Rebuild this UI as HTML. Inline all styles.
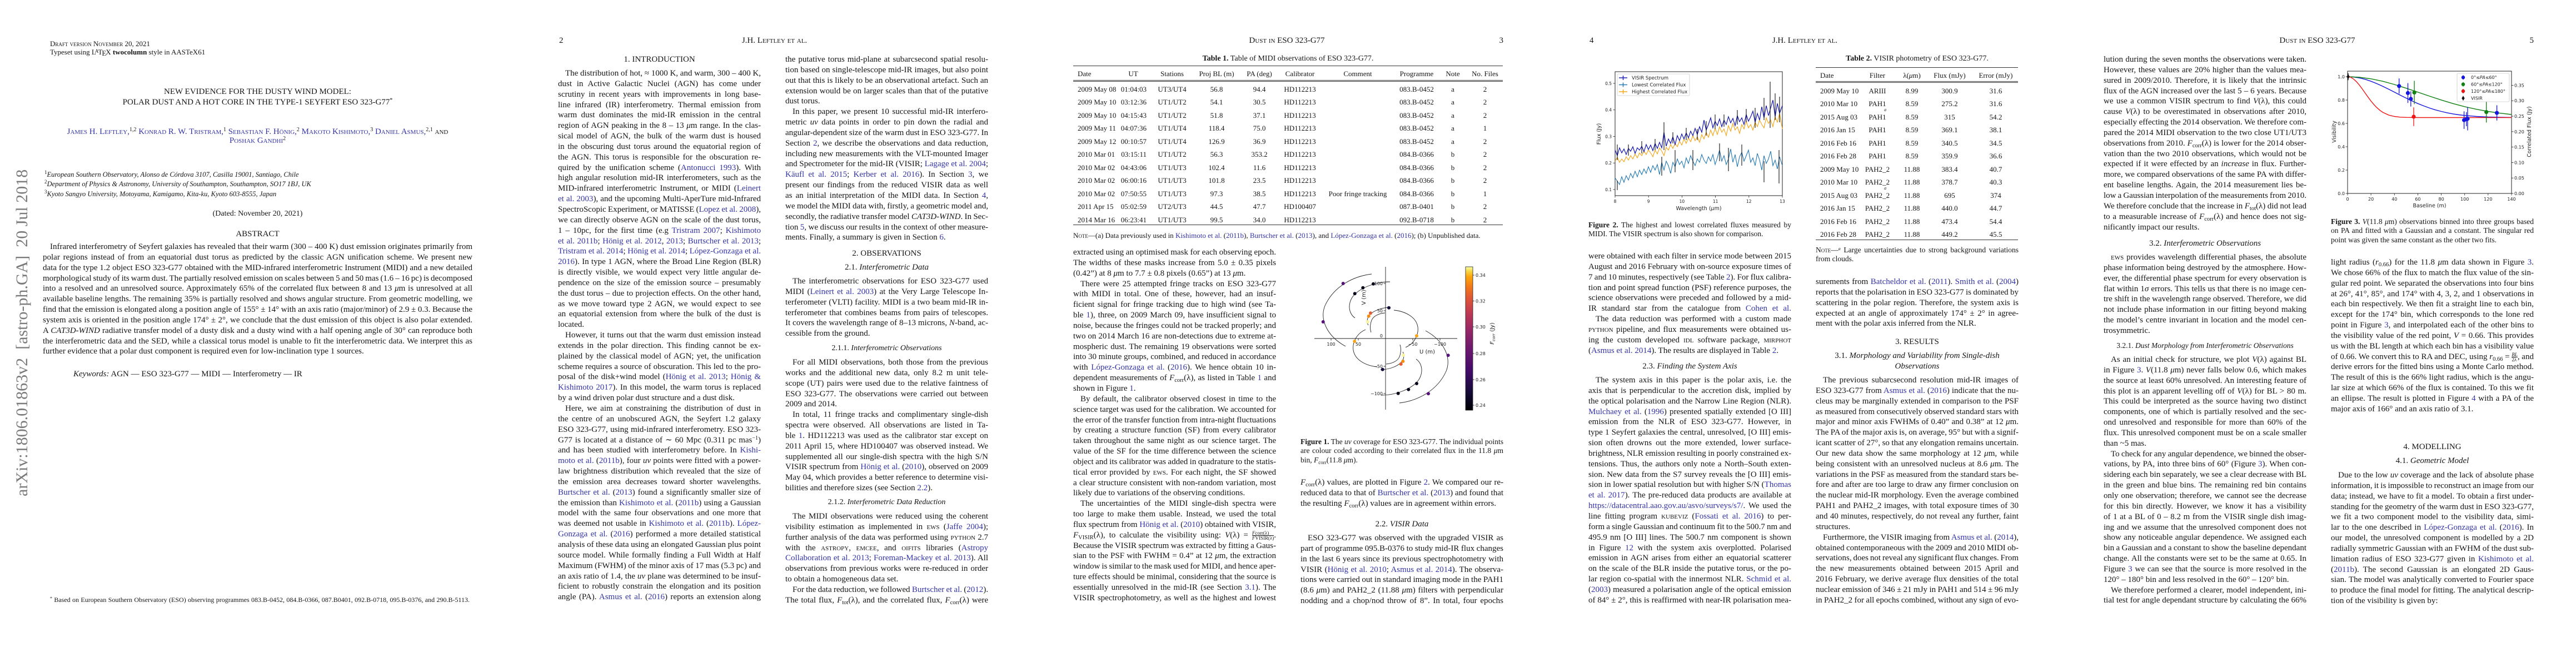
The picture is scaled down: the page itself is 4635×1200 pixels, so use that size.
<!DOCTYPE html>
<html><head><meta charset="utf-8">
<style>
*{box-sizing:border-box}
html,body{margin:0;padding:0}
body{width:4635px;height:1200px;position:relative;background:#fff;overflow:hidden;font-family:"Liberation Serif","DejaVu Serif",serif;color:#151515}
.pg{position:absolute;top:0;width:927px;height:1200px;overflow:hidden}
.b{position:absolute;width:365px;font-size:15px;line-height:18.85px}
.b>div{height:18.85px;overflow:hidden;text-align:justify;text-align-last:justify;word-spacing:-1px;white-space:normal}
.b>div.e{text-align-last:left;word-spacing:0}
.b>div.i{text-indent:13px}
.hd{position:absolute;width:365px;text-align:center;font-size:15px;line-height:18.85px;white-space:nowrap}
.c{color:#3434a6}
.sc{font-variant:small-caps}
.s{font-size:10.5px;position:relative;top:3px;line-height:0}
.u{font-size:10px;position:relative;top:-5px;line-height:0}
.pn{position:absolute;top:64px;font-size:15px;line-height:18px}
.rh{position:absolute;top:64px;left:0;width:927px;text-align:center;font-size:15px;line-height:18px;font-variant:small-caps}
.cap{position:absolute;width:365px;font-size:13.5px;line-height:16.7px}
.cap>div{height:16.7px;overflow:hidden;text-align:justify;text-align-last:justify;word-spacing:-0.5px}
.cap>div.e{text-align-last:left;word-spacing:0}
.rule{position:absolute;height:0;border-top:1px solid #333}
.tr{position:absolute;left:0;width:927px;height:17px;font-size:13px;line-height:17px;white-space:nowrap}
.tr span{position:absolute;top:0;width:100px;text-align:center}
.tr span.l{text-align:left;width:auto}
.tr span.r{text-align:right}
svg{position:absolute;overflow:visible}
svg text{font-family:"DejaVu Sans",sans-serif}
.frac{display:inline-block;vertical-align:middle;font-size:9px;line-height:8px;text-align:center;text-indent:0}
</style></head><body>

<!-- ================= PAGE 1 ================= -->
<div class="pg" style="left:0">
<div style="position:absolute;left:90px;top:70px;font-size:13px;line-height:18px;font-variant:small-caps;white-space:nowrap">Draft version November 20, 2021</div>
<div style="position:absolute;left:90px;top:85px;font-size:13px;line-height:18px;white-space:nowrap">Typeset using L<span style="font-size:9px;position:relative;top:-3px;margin-left:-2px;margin-right:-1px">A</span>T<span style="position:relative;top:2px;margin-left:-1px;margin-right:-1px">E</span>X <b>twocolumn</b> style in AASTeX61</div>
<div style="position:absolute;left:0;width:927px;top:156px;text-align:center;font-size:15px;line-height:19px;white-space:nowrap">NEW EVIDENCE FOR THE DUSTY WIND MODEL:</div>
<div style="position:absolute;left:0;width:927px;top:175px;text-align:center;font-size:15px;line-height:19px;white-space:nowrap">POLAR DUST AND A HOT CORE IN THE TYPE-1 SEYFERT ESO 323-G77<span class="u">*</span></div>
<div style="position:absolute;left:0;width:927px;top:228px;text-align:center;font-size:15px;line-height:19px;white-space:nowrap;font-variant:small-caps"><span class="c">James H. Leftley,</span><span class="u">1,2</span> <span class="c">Konrad R. W. Tristram,</span><span class="u">1</span> <span class="c">Sebastian F. Hönig,</span><span class="u">2</span> <span class="c">Makoto Kishimoto,</span><span class="u">3</span> <span class="c">Daniel Asmus,</span><span class="u">2,1</span> and</div>
<div style="position:absolute;left:0;width:927px;top:244px;text-align:center;font-size:15px;line-height:19px;white-space:nowrap;font-variant:small-caps"><span class="c">Poshak Gandhi</span><span class="u">2</span></div>
<div style="position:absolute;left:80px;top:306px;font-size:12.5px;line-height:17px;font-style:italic;white-space:nowrap"><span class="u" style="font-style:normal;font-size:9px">1</span>European Southern Observatory, Alonso de Córdova 3107, Casilla 19001, Santiago, Chile</div>
<div style="position:absolute;left:80px;top:323px;font-size:12.5px;line-height:17px;font-style:italic;white-space:nowrap"><span class="u" style="font-style:normal;font-size:9px">2</span>Department of Physics &amp; Astronomy, University of Southampton, Southampton, SO17 1BJ, UK</div>
<div style="position:absolute;left:80px;top:341px;font-size:12.5px;line-height:17px;font-style:italic;white-space:nowrap"><span class="u" style="font-style:normal;font-size:9px">3</span>Kyoto Sangyo University, Motoyama, Kamigamo, Kita-ku, Kyoto 603-8555, Japan</div>
<div style="position:absolute;left:0;width:927px;top:376px;text-align:center;font-size:14px;line-height:18px;white-space:nowrap">(Dated: November 20, 2021)</div>
<div style="position:absolute;left:0;width:927px;top:412px;text-align:center;font-size:15px;line-height:18px">ABSTRACT</div>
<div class="b" style="left:77px;top:435px;width:773px">
<div class="i">Infrared interferometry of Seyfert galaxies has revealed that their warm (300 – 400 K) dust emission originates primarily from</div>
<div>polar regions instead of from an equatorial dust torus as predicted by the classic AGN unification scheme. We present new</div>
<div>data for the type 1.2 object ESO 323-G77 obtained with the MID-infrared interferometric Instrument (MIDI) and a new detailed</div>
<div>morphological study of its warm dust. The partially resolved emission on scales between 5 and 50 mas (1.6 – 16 pc) is decomposed</div>
<div>into a resolved and an unresolved source. Approximately 65% of the correlated flux between 8 and 13 <i>μ</i>m is unresolved at all</div>
<div>available baseline lengths. The remaining 35% is partially resolved and shows angular structure. From geometric modelling, we</div>
<div>find that the emission is elongated along a position angle of 155° ± 14° with an axis ratio (major/minor) of 2.9 ± 0.3. Because the</div>
<div>system axis is oriented in the position angle 174° ± 2°, we conclude that the dust emission of this object is also polar extended.</div>
<div>A <i>CAT3D-WIND</i> radiative transfer model of a dusty disk and a dusty wind with a half opening angle of 30° can reproduce both</div>
<div>the interferometric data and the SED, while a classical torus model is unable to fit the interferometric data. We interpret this as</div>
<div class="e">further evidence that a polar dust component is required even for low-inclination type 1 sources.</div>
</div>
<div style="position:absolute;left:132px;top:664px;font-size:15px;line-height:18px;white-space:nowrap"><i>Keywords:</i> AGN — ESO 323-G77 — MIDI — Interferometry — IR</div>
<div style="position:absolute;left:90px;top:1071px;width:755px;font-size:12px;line-height:16px;text-align:justify;text-align-last:justify;white-space:nowrap;overflow:hidden;height:16px"><span class="u" style="font-size:8px;top:-4px">*</span> Based on European Southern Observatory (ESO) observing programmes 083.B-0452, 084.B-0366, 087.B0401, 092.B-0718, 095.B-0376, and 290.B-5113.</div>
<div style="position:absolute;left:23px;top:893px;transform-origin:0 0;transform:rotate(-90deg);font-size:30px;line-height:34px;color:#7a7a7a;white-space:nowrap">arXiv:1806.01863v2&nbsp;&nbsp;[astro-ph.GA]&nbsp;&nbsp;20 Jul 2018</div>
</div>

<!-- ================= PAGE 2 ================= -->
<div class="pg" style="left:927px">
<div class="pn" style="left:79px">2</div>
<div class="rh" style="left:3px">J.H. Leftley et al.</div>
<div class="hd" style="left:77px;top:98px">1. INTRODUCTION</div>
<div class="b" style="left:77px;top:123px">
<div class="i">The distribution of hot, ≈ 1000 K, and warm, 300 – 400 K,</div>
<div>dust in Active Galactic Nuclei (AGN) has come under</div>
<div>scrutiny in recent years with improvements in long base-</div>
<div>line infrared (IR) interferometry. Thermal emission from</div>
<div>warm dust dominates the mid-IR emission in the central</div>
<div>region of AGN peaking in the 8 – 13 <i>μ</i>m range. In the clas-</div>
<div>sical model of AGN, the bulk of the warm dust is housed</div>
<div>in the obscuring dust torus around the equatorial region of</div>
<div>the AGN. This torus is responsible for the obscuration re-</div>
<div>quired by the unification scheme (<span class="c">Antonucci 1993</span>). With</div>
<div>high angular resolution mid-IR interferometers, such as the</div>
<div>MID-infrared interferometric Instrument, or MIDI (<span class="c">Leinert</span></div>
<div><span class="c">et al. 2003</span>), and the upcoming Multi-AperTure mid-Infrared</div>
<div>SpectroScopic Experiment, or MATISSE (<span class="c">Lopez et al. 2008</span>),</div>
<div>we can directly observe AGN on the scale of the dust torus,</div>
<div>1 – 10pc, for the first time (e.g <span class="c">Tristram 2007</span>; <span class="c">Kishimoto</span></div>
<div><span class="c">et al. 2011b</span>; <span class="c">Hönig et al. 2012</span>, <span class="c">2013</span>; <span class="c">Burtscher et al. 2013</span>;</div>
<div><span class="c">Tristram et al. 2014</span>; <span class="c">Hönig et al. 2014</span>; <span class="c">López-Gonzaga et al.</span></div>
<div><span class="c">2016</span>). In type 1 AGN, where the Broad Line Region (BLR)</div>
<div>is directly visible, we would expect very little angular de-</div>
<div>pendence on the size of the emission source – presumably</div>
<div>the dust torus – due to projection effects. On the other hand,</div>
<div>as we move toward type 2 AGN, we would expect to see</div>
<div>an equatorial extension from where the bulk of the dust is</div>
<div class="e">located.</div>
<div class="i">However, it turns out that the warm dust emission instead</div>
<div>extends in the polar direction. This finding cannot be ex-</div>
<div>plained by the classical model of AGN; yet, the unification</div>
<div>scheme requires a source of obscuration. This led to the pro-</div>
<div>posal of the disk+wind model (<span class="c">Hönig et al. 2013</span>; <span class="c">Hönig &amp;</span></div>
<div><span class="c">Kishimoto 2017</span>). In this model, the warm torus is replaced</div>
<div class="e">by a wind driven polar dust structure and a dust disk.</div>
<div class="i">Here, we aim at constraining the distribution of dust in</div>
<div>the centre of an unobscured AGN, the Seyfert 1.2 galaxy</div>
<div>ESO 323-G77, using mid-infrared interferometry. ESO 323-</div>
<div>G77 is located at a distance of ∼ 60 Mpc (0.311 pc mas<span class="u">−1</span>)</div>
<div>and has been studied with interferometry before. In <span class="c">Kishi-</span></div>
<div><span class="c">moto et al.</span> (<span class="c">2011b</span>), four <i>uv</i> points were fitted with a power-</div>
<div>law brightness distribution which revealed that the size of</div>
<div>the emission area decreases toward shorter wavelengths.</div>
<div><span class="c">Burtscher et al.</span> (<span class="c">2013</span>) found a significantly smaller size of</div>
<div>the emission than <span class="c">Kishimoto et al.</span> (<span class="c">2011b</span>) using a Gaussian</div>
<div>model with the same four observations and one more that</div>
<div>was deemed not usable in <span class="c">Kishimoto et al.</span> (<span class="c">2011b</span>). <span class="c">López-</span></div>
<div><span class="c">Gonzaga et al.</span> (<span class="c">2016</span>) performed a more detailed statistical</div>
<div>analysis of these data using an elongated Gaussian plus point</div>
<div>source model. While formally finding a Full Width at Half</div>
<div>Maximum (FWHM) of the minor axis of 17 mas (5.3 pc) and</div>
<div>an axis ratio of 1.4, the <i>uv</i> plane was determined to be insuf-</div>
<div>ficient to robustly constrain the elongation and its position</div>
<div>angle (PA). <span class="c">Asmus et al.</span> (<span class="c">2016</span>) reports an extension along</div>
</div>
<div class="b" style="left:486px;top:98px">
<div>the putative torus mid-plane at subarcsecond spatial resolu-</div>
<div>tion based on single-telescope mid-IR images, but also point</div>
<div>out that this is likely to be an observational artefact. Such an</div>
<div>extension would be on larger scales than that of the putative</div>
<div class="e">dust torus.</div>
<div class="i">In this paper, we present 10 successful mid-IR interfero-</div>
<div>metric <i>uv</i> data points in order to pin down the radial and</div>
<div>angular-dependent size of the warm dust in ESO 323-G77. In</div>
<div>Section <span class="c">2</span>, we describe the observations and data reduction,</div>
<div>including new measurements with the VLT-mounted Imager</div>
<div>and Spectrometer for the mid-IR (VISIR; <span class="c">Lagage et al. 2004</span>;</div>
<div><span class="c">Käufl et al. 2015</span>; <span class="c">Kerber et al. 2016</span>). In Section <span class="c">3</span>, we</div>
<div>present our findings from the reduced VISIR data as well</div>
<div>as an initial interpretation of the MIDI data. In Section <span class="c">4</span>,</div>
<div>we model the MIDI data with, firstly, a geometric model and,</div>
<div>secondly, the radiative transfer model <i>CAT3D-WIND</i>. In Sec-</div>
<div>tion <span class="c">5</span>, we discuss our results in the context of other measure-</div>
<div class="e">ments. Finally, a summary is given in Section <span class="c">6</span>.</div>
</div>
<div class="hd" style="left:486px;top:447px">2. OBSERVATIONS</div>
<div class="hd" style="left:486px;top:472px">2.1. <i>Interferometric Data</i></div>
<div class="b" style="left:486px;top:497px">
<div class="i">The interferometric observations for ESO 323-G77 used</div>
<div>MIDI (<span class="c">Leinert et al. 2003</span>) at the Very Large Telescope In-</div>
<div>terferometer (VLTI) facility. MIDI is a two beam mid-IR in-</div>
<div>terferometer that combines beams from pairs of telescopes.</div>
<div>It covers the wavelength range of 8–13 microns, <i>N</i>-band, ac-</div>
<div class="e">cessible from the ground.</div>
</div>
<div class="hd" style="left:486px;top:618px;font-size:14px">2.1.1. <i>Interferometric Observations</i></div>
<div class="b" style="left:486px;top:643px">
<div class="i">For all MIDI observations, both those from the previous</div>
<div>works and the additional new data, only 8.2 m unit tele-</div>
<div>scope (UT) pairs were used due to the relative faintness of</div>
<div>ESO 323-G77. The observations were carried out between</div>
<div class="e">2009 and 2014.</div>
<div class="i">In total, 11 fringe tracks and complimentary single-dish</div>
<div>spectra were observed. All observations are listed in Ta-</div>
<div>ble <span class="c">1</span>. HD112213 was used as the calibrator star except on</div>
<div>2011 April 15, where HD100407 was observed instead. We</div>
<div>supplemented all our single-dish spectra with the high S/N</div>
<div>VISIR spectrum from <span class="c">Hönig et al.</span> (<span class="c">2010</span>), observed on 2009</div>
<div>May 04, which provides a better reference to determine visi-</div>
<div class="e">bilities and therefore sizes (see Section <span class="c">2.2</span>).</div>
</div>
<div class="hd" style="left:486px;top:895px;font-size:14px">2.1.2. <i>Interferometric Data Reduction</i></div>
<div class="b" style="left:486px;top:920px">
<div class="i">The MIDI observations were reduced using the coherent</div>
<div>visibility estimation as implemented in <span class="sc">ews</span> (<span class="c">Jaffe 2004</span>);</div>
<div>further analysis of the data was performed using <span class="sc">python</span> 2.7</div>
<div>with the <span class="sc">astropy</span>, <span class="sc">emcee</span>, and <span class="sc">oifits</span> libraries (<span class="c">Astropy</span></div>
<div><span class="c">Collaboration et al. 2013</span>; <span class="c">Foreman-Mackey et al. 2013</span>). All</div>
<div>observations from previous works were re-reduced in order</div>
<div class="e">to obtain a homogeneous data set.</div>
<div class="i">For the data reduction, we followed <span class="c">Burtscher et al.</span> (<span class="c">2012</span>).</div>
<div>The total flux, <i>F</i><span class="s">tot</span>(λ), and the correlated flux, <i>F</i><span class="s">corr</span>(λ) were</div>
</div>
</div>

<!-- ================= PAGE 3 ================= -->
<div class="pg" style="left:1854px">
<div class="rh" style="left:-2px">Dust in ESO 323-G77</div>
<div class="pn" style="right:76px">3</div>
<div style="position:absolute;left:77px;width:773px;top:97px;text-align:center;font-size:14px;line-height:18px;white-space:nowrap"><b>Table 1.</b> Table of MIDI observations of ESO 323-G77.</div>
<div class="rule" style="left:77px;width:773px;top:118px;border-top-width:1.5px"></div>
<div class="tr" style="top:123.5px"><span class="l" style="left:85px">Date</span><span style="left:135px">UT</span><span style="left:205px">Stations</span><span style="left:285px">Proj BL (m)</span><span style="left:362px">PA (deg)</span><span style="left:435px">Calibrator</span><span style="left:529px;width:120px">Comment</span><span style="left:645px">Programme</span><span style="left:710px">Note</span><span style="left:768px">No. Files</span></div>
<div class="rule" style="left:77px;width:773px;top:143.5px"></div>
<div class="rule" style="left:77px;width:773px;top:146px"></div>
<div class="tr" style="top:151.5px"><span class="l" style="left:85px">2009 May 08</span><span class="r" style="left:109px">01:04:03</span><span style="left:205px">UT3/UT4</span><span style="left:285px">56.8</span><span style="left:362px">94.4</span><span style="left:435px">HD112213</span><span style="left:645px">083.B-0452</span><span style="left:710px">a</span><span style="left:768px">2</span></div>
<div class="tr" style="top:175px"><span class="l" style="left:85px">2009 May 10</span><span class="r" style="left:109px">03:12:36</span><span style="left:205px">UT1/UT2</span><span style="left:285px">54.1</span><span style="left:362px">30.5</span><span style="left:435px">HD112213</span><span style="left:645px">083.B-0452</span><span style="left:710px">a</span><span style="left:768px">2</span></div>
<div class="tr" style="top:198.5px"><span class="l" style="left:85px">2009 May 10</span><span class="r" style="left:109px">04:15:43</span><span style="left:205px">UT1/UT2</span><span style="left:285px">51.8</span><span style="left:362px">37.1</span><span style="left:435px">HD112213</span><span style="left:645px">083.B-0452</span><span style="left:710px">a</span><span style="left:768px">2</span></div>
<div class="tr" style="top:222px"><span class="l" style="left:85px">2009 May 11</span><span class="r" style="left:109px">04:07:36</span><span style="left:205px">UT1/UT4</span><span style="left:285px">118.4</span><span style="left:362px">75.0</span><span style="left:435px">HD112213</span><span style="left:645px">083.B-0452</span><span style="left:710px">a</span><span style="left:768px">1</span></div>
<div class="tr" style="top:245.5px"><span class="l" style="left:85px">2009 May 12</span><span class="r" style="left:109px">00:10:57</span><span style="left:205px">UT1/UT4</span><span style="left:285px">126.9</span><span style="left:362px">36.9</span><span style="left:435px">HD112213</span><span style="left:645px">083.B-0452</span><span style="left:710px">a</span><span style="left:768px">2</span></div>
<div class="tr" style="top:269px"><span class="l" style="left:85px">2010 Mar 01</span><span class="r" style="left:109px">03:15:11</span><span style="left:205px">UT1/UT2</span><span style="left:285px">56.3</span><span style="left:362px">353.2</span><span style="left:435px">HD112213</span><span style="left:645px">084.B-0366</span><span style="left:710px">b</span><span style="left:768px">2</span></div>
<div class="tr" style="top:292.5px"><span class="l" style="left:85px">2010 Mar 02</span><span class="r" style="left:109px">04:43:06</span><span style="left:205px">UT1/UT3</span><span style="left:285px">102.4</span><span style="left:362px">11.6</span><span style="left:435px">HD112213</span><span style="left:645px">084.B-0366</span><span style="left:710px">b</span><span style="left:768px">2</span></div>
<div class="tr" style="top:316px"><span class="l" style="left:85px">2010 Mar 02</span><span class="r" style="left:109px">06:00:16</span><span style="left:205px">UT1/UT3</span><span style="left:285px">101.8</span><span style="left:362px">23.5</span><span style="left:435px">HD112213</span><span style="left:645px">084.B-0366</span><span style="left:710px">b</span><span style="left:768px">2</span></div>
<div class="tr" style="top:339.5px"><span class="l" style="left:85px">2010 Mar 02</span><span class="r" style="left:109px">07:50:55</span><span style="left:205px">UT1/UT3</span><span style="left:285px">97.3</span><span style="left:362px">38.5</span><span style="left:435px">HD112213</span><span style="left:529px;width:120px">Poor fringe tracking</span><span style="left:645px">084.B-0366</span><span style="left:710px">b</span><span style="left:768px">1</span></div>
<div class="tr" style="top:363px"><span class="l" style="left:85px">2011 Apr 15</span><span class="r" style="left:109px">05:02:59</span><span style="left:205px">UT2/UT3</span><span style="left:285px">44.5</span><span style="left:362px">47.7</span><span style="left:435px">HD100407</span><span style="left:645px">087.B-0401</span><span style="left:710px">b</span><span style="left:768px">2</span></div>
<div class="tr" style="top:386.5px"><span class="l" style="left:85px">2014 Mar 16</span><span class="r" style="left:109px">06:23:41</span><span style="left:205px">UT1/UT3</span><span style="left:285px">99.5</span><span style="left:362px">34.0</span><span style="left:435px">HD112213</span><span style="left:645px">092.B-0718</span><span style="left:710px">b</span><span style="left:768px">2</span></div>
<div class="rule" style="left:77px;width:773px;top:404px;border-top-width:1.5px"></div>
<div style="position:absolute;left:77px;top:415px;font-size:13px;line-height:18px;white-space:nowrap"><span class="sc">Note</span>—(a) Data previously used in <span class="c">Kishimoto et al.</span> (<span class="c">2011b</span>), <span class="c">Burtscher et al.</span> (<span class="c">2013</span>), and <span class="c">López-Gonzaga et al.</span> (<span class="c">2016</span>); (b) Unpublished data.</div>
<div class="b" style="left:77px;top:445px">
<div>extracted using an optimised mask for each observing epoch.</div>
<div>The widths of these masks increase from 5.0 ± 0.35 pixels</div>
<div class="e">(0.42”) at 8 <i>μ</i>m to 7.7 ± 0.8 pixels (0.65”) at 13 <i>μ</i>m.</div>
<div class="i">There were 25 attempted fringe tracks on ESO 323-G77</div>
<div>with MIDI in total. One of these, however, had an insuf-</div>
<div>ficient signal for fringe tracking due to high wind (see Ta-</div>
<div>ble <span class="c">1</span>), three, on 2009 March 09, have insufficient signal to</div>
<div>noise, because the fringes could not be tracked properly; and</div>
<div>two on 2014 March 16 are non-detections due to extreme at-</div>
<div>mospheric dust. The remaining 19 observations were sorted</div>
<div>into 30 minute groups, combined, and reduced in accordance</div>
<div>with <span class="c">López-Gonzaga et al.</span> (<span class="c">2016</span>). We hence obtain 10 in-</div>
<div>dependent measurements of <i>F</i><span class="s">corr</span>(λ), as listed in Table <span class="c">1</span> and</div>
<div class="e">shown in Figure <span class="c">1</span>.</div>
<div class="i">By default, the calibrator observed closest in time to the</div>
<div>science target was used for the calibration. We accounted for</div>
<div>the error of the transfer function from intra-night fluctuations</div>
<div>by creating a structure function (SF) from every calibrator</div>
<div>taken throughout the same night as our science target. The</div>
<div>value of the SF for the time difference between the science</div>
<div>object and its calibrator was added in quadrature to the statis-</div>
<div>tical error provided by <span class="sc">ews</span>. For each night, the SF showed</div>
<div>a clear structure consistent with non-random variation, most</div>
<div class="e">likely due to variations of the observing conditions.</div>
<div class="i">The uncertainties of the MIDI single-dish spectra were</div>
<div>too large to make them usable. Instead, we used the total</div>
<div>flux spectrum from <span class="c">Hönig et al.</span> (<span class="c">2010</span>) obtained with VISIR,</div>
<div><i>F</i><span class="s">VISIR</span>(λ), to calculate the visibility using: <i>V</i>(λ) = <span class="frac"><i>F</i>corr(λ)<br><span style="border-top:1px solid #222;display:block"><i>F</i>VISIR(λ)</span></span>.</div>
<div>Because the VISIR spectrum was extracted by fitting a Gaus-</div>
<div>sian to the PSF with FWHM = 0.4” at 12 <i>μ</i>m, the extraction</div>
<div>window is similar to the mask used for MIDI, and hence aper-</div>
<div>ture effects should be minimal, considering that the source is</div>
<div>essentially unresolved in the mid-IR (see Section <span class="c">3.1</span>). The</div>
<div>VISIR spectrophotometry, as well as the highest and lowest</div>
</div>
<svg style="left:486px;top:470px" width="364" height="280" font-size="8">
<defs><linearGradient id="inf" x1="0" y1="1" x2="0" y2="0">
<stop offset="0" stop-color="#000004"/><stop offset="0.13" stop-color="#160b39"/><stop offset="0.27" stop-color="#420a68"/><stop offset="0.42" stop-color="#6a176e"/><stop offset="0.55" stop-color="#932667"/><stop offset="0.67" stop-color="#bc3754"/><stop offset="0.77" stop-color="#dd513a"/><stop offset="0.86" stop-color="#f37819"/><stop offset="0.93" stop-color="#fca50a"/><stop offset="0.97" stop-color="#f6d746"/><stop offset="1" stop-color="#fcffa4"/></linearGradient></defs>
<g stroke="#222" stroke-width="0.9" fill="none">
<line x1="25" y1="139" x2="282" y2="139"/>
<line x1="153" y1="10" x2="153" y2="267"/>
<line x1="55" y1="139" x2="55" y2="142.5"/><line x1="104" y1="139" x2="104" y2="142.5"/><line x1="202" y1="139" x2="202" y2="142.5"/><line x1="251" y1="139" x2="251" y2="142.5"/>
<line x1="149.5" y1="40" x2="153" y2="40"/><line x1="149.5" y1="89" x2="153" y2="89"/><line x1="149.5" y1="189" x2="153" y2="189"/><line x1="149.5" y1="238" x2="153" y2="238"/>
<path d="M128,23 C95,27 60,45 44,80 C34,105 48,135 81,153"/>
<path d="M178,255 C211,251 246,233 262,198 C272,173 258,143 225,125"/>
<path d="M161,37 C135,37 105,48 93,65 C84,80 88,95 98,102"/>
<path d="M145,241 C171,241 201,230 213,213 C222,198 218,183 208,176"/>
<path d="M162,83 C145,83 128,90 122,100 C119,106 120,112 122,115"/>
<path d="M152,93 C140,94 131,99 128,106 C125,114 125,122 127,128"/>
<path d="M144,195 C161,195 178,188 184,178 C187,172 186,166 184,163"/>
<path d="M154,185 C166,184 175,179 178,172 C181,164 181,156 179,150"/>
<path d="M189,155 C205,148 213,132 211,118 C208,100 188,90 168,88"/>
<path d="M117,123 C101,130 93,146 95,160 C98,178 118,188 138,190"/>
</g>
<g stroke="none">
<circle cx="76.7" cy="40" r="3" fill="#55107a"/>
<circle cx="40.7" cy="109" r="3" fill="#55107a"/>
<circle cx="97.7" cy="58.3" r="3" fill="#08051b"/>
<circle cx="112.3" cy="47.7" r="3" fill="#08051b"/>
<circle cx="131" cy="40.7" r="3" fill="#08051b"/>
<circle cx="159" cy="83.7" r="3" fill="#150b3a"/>
<circle cx="126" cy="93.3" r="3" fill="#e45a31"/>
<circle cx="122.7" cy="98.7" r="3" fill="#f98c0a"/>
<circle cx="121" cy="109" r="3" fill="#f8f4a0"/>
<circle cx="97.3" cy="144" r="3" fill="#f9a51a"/>
<circle cx="209" cy="134.3" r="3" fill="#f9a51a"/>
<circle cx="265.7" cy="169.3" r="3" fill="#55107a"/>
<circle cx="230" cy="238.3" r="3" fill="#55107a"/>
<circle cx="209" cy="220" r="3" fill="#08051b"/>
<circle cx="194.3" cy="230.7" r="3" fill="#08051b"/>
<circle cx="175.7" cy="237.7" r="3" fill="#08051b"/>
<circle cx="147.7" cy="194.7" r="3" fill="#150b3a"/>
<circle cx="180.7" cy="185" r="3" fill="#e45a31"/>
<circle cx="184.3" cy="180" r="3" fill="#f98c0a"/>
<circle cx="185" cy="169" r="3" fill="#f8f4a0"/>
</g>
<g fill="#222">
<text x="55" y="152" text-anchor="middle">100</text>
<text x="104" y="152" text-anchor="middle">50</text>
<text x="202" y="152" text-anchor="middle">−50</text>
<text x="251" y="152" text-anchor="middle">−100</text>
<text x="148" y="137" text-anchor="end">0</text>
<text x="148" y="43" text-anchor="end">100</text>
<text x="148" y="92" text-anchor="end">50</text>
<text x="148" y="192" text-anchor="end">−50</text>
<text x="148" y="241" text-anchor="end">−100</text>
<text x="228" y="166" text-anchor="middle" font-size="10">U (m)</text>
<text transform="translate(117,65) rotate(-90)" text-anchor="middle" font-size="10">V (m)</text>
</g>
<rect x="297" y="10" width="13" height="258" fill="url(#inf)" stroke="#222" stroke-width="0.8"/>
<g stroke="#222" stroke-width="0.8"><line x1="310" y1="25" x2="313" y2="25"/><line x1="310" y1="71.5" x2="313" y2="71.5"/><line x1="310" y1="118" x2="313" y2="118"/><line x1="310" y1="166" x2="313" y2="166"/><line x1="310" y1="213" x2="313" y2="213"/><line x1="310" y1="259" x2="313" y2="259"/></g>
<g fill="#222"><text x="315" y="28">0.34</text><text x="315" y="74.5">0.32</text><text x="315" y="121">0.30</text><text x="315" y="169">0.28</text><text x="315" y="216">0.26</text><text x="315" y="262">0.24</text>
<text transform="translate(348,130) rotate(-90)" text-anchor="middle" font-size="10"><tspan font-style="italic">F</tspan><tspan font-size="7" dy="2" font-style="italic">corr</tspan><tspan dy="-2"> (Jy)</tspan></text></g>
</svg>
<div class="cap" style="left:486px;top:786.5px">
<div><b>Figure 1.</b> The <i>uv</i> coverage for ESO 323-G77. The individual points</div>
<div>are colour coded according to their correlated flux in the 11.8 <i>μ</i>m</div>
<div class="e">bin, <i>F</i><span class="s" style="font-size:9px">corr</span>(11.8 <i>μ</i>m).</div>
</div>
<div class="b" style="left:486px;top:859px">
<div><i>F</i><span class="s">corr</span>(λ) values, are plotted in Figure <span class="c">2</span>. We compared our re-</div>
<div>reduced data to that of <span class="c">Burtscher et al.</span> (<span class="c">2013</span>) and found that</div>
<div class="e">the resulting <i>F</i><span class="s">corr</span>(λ) values are in agreement within errors.</div>
</div>
<div class="hd" style="left:486px;top:934px">2.2. <i>VISIR Data</i></div>
<div class="b" style="left:486px;top:959px">
<div class="i">ESO 323-G77 was observed with the upgraded VISIR as</div>
<div>part of programme 095.B-0376 to study mid-IR flux changes</div>
<div>in the last 6 years since its previous spectrophotometry with</div>
<div>VISIR (<span class="c">Hönig et al. 2010</span>; <span class="c">Asmus et al. 2014</span>). The observa-</div>
<div>tions were carried out in standard imaging mode in the PAH1</div>
<div>(8.6 <i>μ</i>m) and PAH2_2 (11.88 <i>μ</i>m) filters with perpendicular</div>
<div>nodding and a chop/nod throw of 8”. In total, four epochs</div>
</div>
</div>

<!-- ================= PAGE 4 ================= -->
<div class="pg" style="left:2781px">
<div class="pn" style="left:79px">4</div>
<div class="rh" style="left:3px">J.H. Leftley et al.</div>
<svg style="left:77px;top:120px" width="365" height="265" font-size="7.5">
<rect x="48" y="9" width="301" height="223" fill="none" stroke="#222" stroke-width="1"/>
<g stroke="#222" stroke-width="0.8">
<line x1="44.5" y1="30" x2="48" y2="30"/><line x1="44.5" y1="77.75" x2="48" y2="77.75"/><line x1="44.5" y1="125.5" x2="48" y2="125.5"/><line x1="44.5" y1="173.25" x2="48" y2="173.25"/><line x1="44.5" y1="221" x2="48" y2="221"/>
<line x1="48" y1="232" x2="48" y2="235.5"/><line x1="108.2" y1="232" x2="108.2" y2="235.5"/><line x1="168.4" y1="232" x2="168.4" y2="235.5"/><line x1="228.6" y1="232" x2="228.6" y2="235.5"/><line x1="288.8" y1="232" x2="288.8" y2="235.5"/><line x1="349" y1="232" x2="349" y2="235.5"/>
</g>
<g fill="#222">
<text x="42" y="33" text-anchor="end">0.5</text><text x="42" y="80.5" text-anchor="end">0.4</text><text x="42" y="128.5" text-anchor="end">0.3</text><text x="42" y="176" text-anchor="end">0.2</text><text x="42" y="224" text-anchor="end">0.1</text>
<text x="48" y="245" text-anchor="middle">8</text><text x="108.2" y="245" text-anchor="middle">9</text><text x="168.4" y="245" text-anchor="middle">10</text><text x="228.6" y="245" text-anchor="middle">11</text><text x="288.8" y="245" text-anchor="middle">12</text><text x="349" y="245" text-anchor="middle">13</text>
<text x="198.5" y="258" text-anchor="middle" font-size="9.5">Wavelength (<tspan font-style="italic">μ</tspan>m)</text>
<text transform="translate(22,121) rotate(-90)" text-anchor="middle" font-size="9.5">Flux (Jy)</text>
</g>
<polyline fill="none" stroke="#1f77b4" stroke-width="1.1" points="48,200 52,206 56,212 60,198 64,208 68,196 72,204 76,192 80,200 84,188 88,198 92,186 96,194 100,184 104,192 108,180 112,190 116,178 120,186 124,176 128,194 132,172 136,186 140,170 144,178 148,192 152,172 156,180 160,166 164,176 168,170 172,182 176,164 180,174 184,160 188,170 192,178 196,166 200,172 204,158 208,168 212,174 216,162 220,170 224,158 228,176 232,164 236,150 240,170 244,160 248,176 252,166 256,148 260,172 264,158 268,180 272,162 276,154 280,170 284,160 288,150 292,172 296,164 300,178 304,156 308,168 312,186 316,160 320,174 324,166 328,152 332,178 336,168 340,184 344,162 349,178"/>
<polyline fill="none" stroke="#f5a30f" stroke-width="1.1" points="48,170 52,163 56,172 60,166 64,171 68,162 72,168 76,160 80,166 84,157 88,164 92,155 96,160 100,152 104,158 108,150 112,155 116,162 120,150 124,157 128,146 132,152 136,160 140,145 144,150 148,140 152,147 156,138 160,144 164,134 168,141 172,130 176,138 180,128 184,135 188,124 192,133 196,126 200,136 204,122 208,130 212,118 216,127 220,114 224,124 228,111 232,122 236,108 240,118 244,112 248,124 252,106 256,116 260,102 264,114 268,108 272,120 276,104 280,112 284,98 288,110 292,104 296,114 300,100 304,108 308,96 312,104 316,110 320,92 324,102 328,96 332,108 336,90 340,100 344,84 349,112"/>
<polyline fill="none" stroke="#1515b5" stroke-width="1.2" points="48,150 52,160 56,146 60,155 64,148 68,158 72,147 76,152 80,144 84,156 88,146 92,150 96,143 100,153 104,140 108,149 112,141 116,151 120,138 124,147 128,136 132,146 136,118 140,143 144,130 148,138 152,126 156,140 160,124 164,133 168,121 172,130 176,119 180,128 184,116 188,124 192,111 196,122 200,108 204,118 208,96 212,114 216,104 220,92 224,110 228,98 232,106 236,94 240,108 244,96 248,104 252,90 256,101 260,93 264,106 268,88 272,99 276,92 280,104 284,86 288,98 292,90 296,80 300,100 304,84 308,96 312,72 316,92 320,70 324,88 328,74 332,60 336,90 340,66 344,84 349,70"/>
<g stroke="#111" stroke-width="1.1">
<line x1="52" y1="140" x2="52" y2="168"/><line x1="72" y1="140" x2="72" y2="160"/><line x1="96" y1="134" x2="96" y2="156"/><line x1="120" y1="130" x2="120" y2="150"/><line x1="136" y1="100" x2="136" y2="150"/><line x1="152" y1="118" x2="152" y2="138"/><line x1="176" y1="110" x2="176" y2="132"/><line x1="196" y1="112" x2="196" y2="132"/><line x1="212" y1="98" x2="212" y2="124"/><line x1="228" y1="86" x2="228" y2="112"/><line x1="244" y1="86" x2="244" y2="108"/><line x1="268" y1="78" x2="268" y2="104"/><line x1="284" y1="76" x2="284" y2="100"/><line x1="300" y1="74" x2="300" y2="110"/><line x1="316" y1="56" x2="316" y2="96"/><line x1="327" y1="27" x2="327" y2="110"/><line x1="336" y1="48" x2="336" y2="96"/><line x1="344" y1="54" x2="344" y2="100"/>
<line x1="52" y1="205" x2="52" y2="222"/><line x1="132" y1="162" x2="132" y2="196"/><line x1="156" y1="150" x2="156" y2="190"/><line x1="188" y1="150" x2="188" y2="186"/><line x1="236" y1="138" x2="236" y2="170"/><line x1="252" y1="146" x2="252" y2="188"/><line x1="276" y1="140" x2="276" y2="178"/><line x1="316" y1="170" x2="316" y2="208"/><line x1="343" y1="150" x2="343" y2="210"/>
</g>
<rect x="52" y="13" width="130" height="39" fill="#fff" fill-opacity="0.9" stroke="#ccc" stroke-width="0.8" rx="2"/>
<g stroke-width="1.4">
<line x1="55" y1="20" x2="70" y2="20" stroke="#1515b5"/><line x1="62.5" y1="16" x2="62.5" y2="24" stroke="#1515b5"/>
<line x1="55" y1="32.5" x2="70" y2="32.5" stroke="#1f77b4"/><line x1="62.5" y1="28.5" x2="62.5" y2="36.5" stroke="#1f77b4"/>
<line x1="55" y1="45" x2="70" y2="45" stroke="#f5a30f"/><line x1="62.5" y1="41" x2="62.5" y2="49" stroke="#f5a30f"/>
</g>
<g fill="#222" font-size="8.5"><text x="78" y="23">VISIR Spectrum</text><text x="78" y="35.5">Lowest Correlated Flux</text><text x="78" y="48">Highest Correlated Flux</text></g>
</svg>
<div class="cap" style="left:77px;top:396.5px">
<div><b>Figure 2.</b> The highest and lowest correlated fluxes measured by</div>
<div class="e">MIDI. The VISIR spectrum is also shown for comparison.</div>
</div>
<div class="b" style="left:77px;top:452px">
<div>were obtained with each filter in service mode between 2015</div>
<div>August and 2016 February with on-source exposure times of</div>
<div>7 and 10 minutes, respectively (see Table <span class="c">2</span>). For flux calibra-</div>
<div>tion and point spread function (PSF) reference purposes, the</div>
<div>science observations were preceded and followed by a mid-</div>
<div class="e">IR standard star from the catalogue from <span class="c">Cohen et al.</span> (<span class="c">1999</span>).</div>
<div class="i">The data reduction was performed with a custom made</div>
<div><span class="sc">python</span> pipeline, and flux measurements were obtained us-</div>
<div>ing the custom developed <span class="sc">idl</span> software package, <span class="sc">mirphot</span></div>
<div class="e">(<span class="c">Asmus et al. 2014</span>). The results are displayed in Table <span class="c">2</span>.</div>
</div>
<div class="hd" style="left:77px;top:650px">2.3. <i>Finding the System Axis</i></div>
<div class="b" style="left:77px;top:675px">
<div class="i">The system axis in this paper is the polar axis, i.e. the</div>
<div>axis that is perpendicular to the accretion disk, implied by</div>
<div>the optical polarisation and the Narrow Line Region (NLR).</div>
<div><span class="c">Mulchaey et al.</span> (<span class="c">1996</span>) presented spatially extended [O III]</div>
<div>emission from the NLR of ESO 323-G77. However, in</div>
<div>type 1 Seyfert galaxies the central, unresolved, [O III] emis-</div>
<div>sion often drowns out the more extended, lower surface-</div>
<div>brightness, NLR emission resulting in poorly constrained ex-</div>
<div>tensions. Thus, the authors only note a North–South exten-</div>
<div>sion. New data from the S7 survey reveals the [O III] emis-</div>
<div>sion in lower spatial resolution but with higher S/N (<span class="c">Thomas</span></div>
<div><span class="c">et al. 2017</span>). The pre-reduced data products are available at</div>
<div><span class="c">https://datacentral.aao.gov.au/asvo/surveys/s7/</span>. We used the</div>
<div>line fitting program <span class="sc">kubeviz</span> (<span class="c">Fossati et al. 2016</span>) to per-</div>
<div>form a single Gaussian and continuum fit to the 500.7 nm and</div>
<div>495.9 nm [O III] lines. The 500.7 nm component is shown</div>
<div>in Figure <span class="c">12</span> with the system axis overplotted. Polarised</div>
<div>emission in AGN arises from either an equatorial scatterer</div>
<div>on the scale of the BLR inside the putative torus, or the po-</div>
<div>lar region co-spatial with the innermost NLR. <span class="c">Schmid et al.</span></div>
<div>(<span class="c">2003</span>) measured a polarisation angle of the optical emission</div>
<div>of 84° ± 2°, this is reaffirmed with near-IR polarisation mea-</div>
</div>
<div style="position:absolute;left:486px;width:365px;top:97px;text-align:center;font-size:14px;line-height:18px;white-space:nowrap"><b>Table 2.</b> VISIR photometry of ESO 323-G77.</div>
<div class="rule" style="left:486px;width:364px;top:121px;border-top-width:1.5px"></div>
<div class="tr" style="top:126.5px"><span class="l" style="left:494px">Date</span><span style="left:547px">Filter</span><span style="left:609px">λ(<i>μ</i>m)</span><span style="left:677px">Flux (mJy)</span><span style="left:760px">Error (mJy)</span></div>
<div class="rule" style="left:486px;width:364px;top:145.5px"></div>
<div class="rule" style="left:486px;width:364px;top:148px"></div>
<div class="tr" style="top:154.5px"><span class="l" style="left:494px">2009 May 10</span><span style="left:547px">ARIII</span><span style="left:609px">8.99</span><span style="left:677px">300.9</span><span style="left:760px">31.6</span></div>
<div class="tr" style="top:178px"><span class="l" style="left:494px">2010 Mar 10</span><span style="left:547px">PAH1</span><span style="left:609px">8.59</span><span style="left:677px">275.2</span><span style="left:760px">31.6</span></div>
<div class="tr" style="top:201.5px"><span class="l" style="left:494px">2015 Aug 03<span class="u" style="font-size:8px;top:-4px;font-style:italic">a</span></span><span style="left:547px">PAH1</span><span style="left:609px">8.59</span><span style="left:677px">315</span><span style="left:760px">54.2</span></div>
<div class="tr" style="top:225px"><span class="l" style="left:494px">2016 Jan 15</span><span style="left:547px">PAH1</span><span style="left:609px">8.59</span><span style="left:677px">369.1</span><span style="left:760px">38.1</span></div>
<div class="tr" style="top:248.5px"><span class="l" style="left:494px">2016 Feb 16</span><span style="left:547px">PAH1</span><span style="left:609px">8.59</span><span style="left:677px">340.5</span><span style="left:760px">34.5</span></div>
<div class="tr" style="top:272px"><span class="l" style="left:494px">2016 Feb 28</span><span style="left:547px">PAH1</span><span style="left:609px">8.59</span><span style="left:677px">359.9</span><span style="left:760px">36.6</span></div>
<div class="tr" style="top:295.5px"><span class="l" style="left:494px">2009 May 10</span><span style="left:547px">PAH2_2</span><span style="left:609px">11.88</span><span style="left:677px">383.4</span><span style="left:760px">40.7</span></div>
<div class="tr" style="top:319px"><span class="l" style="left:494px">2010 Mar 10</span><span style="left:547px">PAH2_2</span><span style="left:609px">11.88</span><span style="left:677px">378.7</span><span style="left:760px">40.3</span></div>
<div class="tr" style="top:342.5px"><span class="l" style="left:494px">2015 Aug 03<span class="u" style="font-size:8px;top:-4px;font-style:italic">a</span></span><span style="left:547px">PAH2_2</span><span style="left:609px">11.88</span><span style="left:677px">695</span><span style="left:760px">374</span></div>
<div class="tr" style="top:366px"><span class="l" style="left:494px">2016 Jan 15</span><span style="left:547px">PAH2_2</span><span style="left:609px">11.88</span><span style="left:677px">440.0</span><span style="left:760px">44.7</span></div>
<div class="tr" style="top:389.5px"><span class="l" style="left:494px">2016 Feb 16</span><span style="left:547px">PAH2_2</span><span style="left:609px">11.88</span><span style="left:677px">473.4</span><span style="left:760px">54.4</span></div>
<div class="tr" style="top:413px"><span class="l" style="left:494px">2016 Feb 28</span><span style="left:547px">PAH2_2</span><span style="left:609px">11.88</span><span style="left:677px">449.2</span><span style="left:760px">45.5</span></div>
<div class="rule" style="left:486px;width:364px;top:431px;border-top-width:1.5px"></div>
<div class="cap" style="left:486px;top:441.5px">
<div><span class="sc">Note</span>—<span class="u" style="font-size:8px;top:-4px;font-style:italic">a</span> Large uncertainties due to strong background variations</div>
<div class="e">from clouds.</div>
</div>
<div class="b" style="left:486px;top:498px">
<div>surements from <span class="c">Batcheldor et al.</span> (<span class="c">2011</span>). <span class="c">Smith et al.</span> (<span class="c">2004</span>)</div>
<div>reports that the polarisation in ESO 323-G77 is dominated by</div>
<div>scattering in the polar region. Therefore, the system axis is</div>
<div>expected at an angle of approximately 174° ± 2° in agree-</div>
<div class="e">ment with the polar axis inferred from the NLR.</div>
</div>
<div class="hd" style="left:486px;top:606px">3. RESULTS</div>
<div class="hd" style="left:486px;top:631px">3.1. <i>Morphology and Variability from Single-dish</i></div>
<div class="hd" style="left:486px;top:650px"><i>Observations</i></div>
<div class="b" style="left:486px;top:675px">
<div class="i">The previous subarcsecond resolution mid-IR images of</div>
<div>ESO 323-G77 from <span class="c">Asmus et al.</span> (<span class="c">2016</span>) indicate that the nu-</div>
<div>cleus may be marginally extended in comparison to the PSF</div>
<div>as measured from consecutively observed standard stars with</div>
<div>major and minor axis FWHMs of 0.40” and 0.38” at 12 <i>μ</i>m.</div>
<div>The PA of the major axis is, on average, 95° but with a signif-</div>
<div>icant scatter of 27°, so that any elongation remains uncertain.</div>
<div>Our new data show the same morphology at 12 <i>μ</i>m, while</div>
<div>being consistent with an unresolved nucleus at 8.6 <i>μ</i>m. The</div>
<div>variations in the PSF as measured from the standard stars be-</div>
<div>fore and after are too large to draw any firmer conclusion on</div>
<div>the nuclear mid-IR morphology. Even the average combined</div>
<div>PAH1 and PAH2_2 images, with total exposure times of 30</div>
<div>and 40 minutes, respectively, do not reveal any further, faint</div>
<div class="e">structures.</div>
<div class="i">Furthermore, the VISIR imaging from <span class="c">Asmus et al.</span> (<span class="c">2014</span>),</div>
<div>obtained contemporaneous with the 2009 and 2010 MIDI ob-</div>
<div>servations, does not reveal any significant flux changes. From</div>
<div>the new measurements obtained between 2015 April and</div>
<div>2016 February, we derive average flux densities of the total</div>
<div>nuclear emission of 346 ± 21 mJy in PAH1 and 514 ± 96 mJy</div>
<div>in PAH2_2 for all epochs combined, without any sign of evo-</div>
</div>
</div>

<!-- ================= PAGE 5 ================= -->
<div class="pg" style="left:3708px">
<div class="rh" style="left:-2px">Dust in ESO 323-G77</div>
<div class="pn" style="right:76px">5</div>
<div class="b" style="left:77px;top:98px">
<div>lution during the seven months the observations were taken.</div>
<div>However, these values are 20% higher than the values mea-</div>
<div>sured in 2009/2010. Therefore, it is likely that the intrinsic</div>
<div>flux of the AGN increased over the last 5 – 6 years. Because</div>
<div>we use a common VISIR spectrum to find <i>V</i>(λ), this could</div>
<div>cause <i>V</i>(λ) to be overestimated in observations after 2010,</div>
<div>especially effecting the 2014 observation. We therefore com-</div>
<div>pared the 2014 MIDI observation to the two close UT1/UT3</div>
<div>observations from 2010. <i>F</i><span class="s">corr</span>(λ) is lower for the 2014 obser-</div>
<div>vation than the two 2010 observations, which would not be</div>
<div>expected if it were effected by an <i>increase</i> in flux. Further-</div>
<div>more, we compared observations of the same PA with differ-</div>
<div>ent baseline lengths. Again, the 2014 measurement lies be-</div>
<div>low a Gaussian interpolation of the measurements from 2010.</div>
<div>We therefore conclude that the increase in <i>F</i><span class="s">tot</span>(λ) did not lead</div>
<div>to a measurable increase of <i>F</i><span class="s">corr</span>(λ) and hence does not sig-</div>
<div class="e">nificantly impact our results.</div>
</div>
<div class="hd" style="left:77px;top:429px">3.2. <i>Interferometric Observations</i></div>
<div class="b" style="left:77px;top:454px">
<div class="i"><span class="sc">ews</span> provides wavelength differential phases, the absolute</div>
<div>phase information being destroyed by the atmosphere. How-</div>
<div>ever, the differential phase spectrum for every observation is</div>
<div>flat within 1<i>σ</i> errors. This tells us that there is no image cen-</div>
<div>tre shift in the wavelength range observed. Therefore, we did</div>
<div>not include phase information in our fitting beyond making</div>
<div>the model’s centre invariant in location and the model cen-</div>
<div class="e">trosymmetric.</div>
</div>
<div class="hd" style="left:77px;top:613px;font-size:13.5px">3.2.1. <i>Dust Morphology from Interferometric Observations</i></div>
<div class="b" style="left:77px;top:638px">
<div class="i">As an initial check for structure, we plot <i>V</i>(λ) against BL</div>
<div>in Figure <span class="c">3</span>. <i>V</i>(11.8 <i>μ</i>m) never falls below 0.6, which makes</div>
<div>the source at least 60% unresolved. An interesting feature of</div>
<div>this plot is an apparent levelling off of <i>V</i>(λ) for BL &gt; 80 m.</div>
<div>This could be interpreted as the source having two distinct</div>
<div>components, one of which is partially resolved and the sec-</div>
<div>ond unresolved and responsible for more than 60% of the</div>
<div>flux. This unresolved component must be on a scale smaller</div>
<div class="e">than ~5 mas.</div>
<div class="i">To check for any angular dependence, we binned the obser-</div>
<div>vations, by PA, into three bins of 60° (Figure <span class="c">3</span>). When con-</div>
<div>sidering each bin separately, we see a clear decrease with BL</div>
<div>in the green and blue bins. The remaining red bin contains</div>
<div>only one observation; therefore, we cannot see the decrease</div>
<div>for this bin directly. However, we know it has a visibility</div>
<div>of 1 at a BL of 0 – 8.2 m from the VISIR single dish imag-</div>
<div>ing and we assume that the unresolved component does not</div>
<div>show any noticeable angular dependence. We assigned each</div>
<div>bin a Gaussian and a constant to show the baseline dependant</div>
<div>change. All the constants were set to be the same at 0.65. In</div>
<div>Figure <span class="c">3</span> we can see that the source is more resolved in the</div>
<div class="e">120° – 180° bin and less resolved in the 60° – 120° bin.</div>
<div class="i">We therefore performed a clearer, model independent, ini-</div>
<div>tial test for angle dependant structure by calculating the 66%</div>
</div>
<svg style="left:486px;top:115px" width="364" height="270" font-size="8">
<rect x="30" y="13" width="295" height="220" fill="none" stroke="#222" stroke-width="1"/>
<g stroke="#222" stroke-width="0.8">
<line x1="26.5" y1="233" x2="30" y2="233"/><line x1="26.5" y1="191" x2="30" y2="191"/><line x1="26.5" y1="149" x2="30" y2="149"/><line x1="26.5" y1="107" x2="30" y2="107"/><line x1="26.5" y1="65" x2="30" y2="65"/><line x1="26.5" y1="23" x2="30" y2="23"/>
<line x1="30" y1="233" x2="30" y2="236.5"/><line x1="72.1" y1="233" x2="72.1" y2="236.5"/><line x1="114.3" y1="233" x2="114.3" y2="236.5"/><line x1="156.4" y1="233" x2="156.4" y2="236.5"/><line x1="198.6" y1="233" x2="198.6" y2="236.5"/><line x1="240.7" y1="233" x2="240.7" y2="236.5"/><line x1="282.8" y1="233" x2="282.8" y2="236.5"/><line x1="325" y1="233" x2="325" y2="236.5"/>
<line x1="325" y1="233" x2="328.5" y2="233"/><line x1="325" y1="205.2" x2="328.5" y2="205.2"/><line x1="325" y1="177.4" x2="328.5" y2="177.4"/><line x1="325" y1="149.6" x2="328.5" y2="149.6"/><line x1="325" y1="121.8" x2="328.5" y2="121.8"/><line x1="325" y1="94" x2="328.5" y2="94"/><line x1="325" y1="66.2" x2="328.5" y2="66.2"/><line x1="325" y1="38.4" x2="328.5" y2="38.4"/>
</g>
<g fill="#222">
<text x="25" y="236" text-anchor="end">0.0</text><text x="25" y="194" text-anchor="end">0.2</text><text x="25" y="152" text-anchor="end">0.4</text><text x="25" y="110" text-anchor="end">0.6</text><text x="25" y="68" text-anchor="end">0.8</text><text x="25" y="26" text-anchor="end">1.0</text>
<text x="30" y="246" text-anchor="middle">0</text><text x="72.1" y="246" text-anchor="middle">20</text><text x="114.3" y="246" text-anchor="middle">40</text><text x="156.4" y="246" text-anchor="middle">60</text><text x="198.6" y="246" text-anchor="middle">80</text><text x="240.7" y="246" text-anchor="middle">100</text><text x="282.8" y="246" text-anchor="middle">120</text><text x="325" y="246" text-anchor="middle">140</text>
<text x="330" y="236">0.00</text><text x="330" y="208">0.05</text><text x="330" y="180.5">0.10</text><text x="330" y="152.5">0.15</text><text x="330" y="125">0.20</text><text x="330" y="97">0.25</text><text x="330" y="69">0.30</text><text x="330" y="41.5">0.35</text>
<text x="177.5" y="258" text-anchor="middle" font-size="9.5">Baseline (m)</text>
<text transform="translate(9,122) rotate(-90)" text-anchor="middle" font-size="9.5">Visibility</text>
<text transform="translate(360,122) rotate(-90)" text-anchor="middle" font-size="9.5">Correlated Flux (Jy)</text>
</g>
<polyline fill="none" stroke="#1515e0" stroke-width="1.4" points="30,23 40.5,23.5 51.1,25.2 61.6,27.7 72.1,31.2 82.7,35.5 93.2,40.2 103.7,45.4 114.3,50.8 124.8,56.2 135.4,61.5 145.9,66.6 156.4,71.3 167,75.5 177.5,79.4 188,82.7 198.6,85.5 209,87.9 219.6,89.9 230,91.5 240.7,92.7 261.8,94.5 282.8,95.5 303.9,96 325,96.3"/>
<polyline fill="none" stroke="#108010" stroke-width="1.4" points="30,23 51.1,24 72.1,26.8 93.2,31.2 114.3,37 135.4,43.7 156.4,50.8 177.5,58 198.6,64.9 219.6,71.3 240.7,76.9 261.8,81.6 282.8,85.5 303.9,88.6 325,91"/>
<polyline fill="none" stroke="#ee1515" stroke-width="1.4" points="30,23 35.3,23.8 40.5,27 45.8,31.8 51.1,37.9 56.4,45 61.6,52.4 66.9,59.8 72.1,66.8 77.4,73.1 82.7,78.7 88,83.3 93.2,87 103.7,91.9 114.3,94.5 124.8,95.8 135.4,96.2 156.4,96.5 325,96.5"/>
<g stroke-width="1.3">
<g stroke="#1515e0" fill="#1515e0">
<line x1="122.7" y1="26.1" x2="122.7" y2="53.5"/><circle cx="122.7" cy="39.8" r="3"/>
<line x1="138.5" y1="34.5" x2="138.5" y2="70.3"/><circle cx="138.5" cy="52.4" r="3"/>
<line x1="143.8" y1="49.2" x2="143.8" y2="76.6"/><circle cx="143.8" cy="62.9" r="3"/>
<line x1="239.6" y1="85.3" x2="239.6" y2="116.9"/><circle cx="239.6" cy="101.1" r="3"/>
<line x1="243.9" y1="86.8" x2="243.9" y2="112"/><circle cx="243.9" cy="99.4" r="3"/>
<line x1="246" y1="77.6" x2="246" y2="119.6"/><circle cx="246" cy="98.6" r="3"/>
<line x1="298.6" y1="74.4" x2="298.6" y2="101.8"/><circle cx="298.6" cy="88.1" r="3"/>
</g>
<g stroke="#108010" fill="#108010">
<line x1="150.1" y1="30.4" x2="150.1" y2="72.4"/><circle cx="150.1" cy="51.4" r="3"/>
<line x1="279.7" y1="67.7" x2="279.7" y2="105.5"/><circle cx="279.7" cy="86.6" r="3"/>
</g>
<g stroke="#ee1515" fill="#ee1515">
<line x1="149" y1="78.2" x2="149" y2="111.8"/><circle cx="149" cy="95" r="3"/>
</g>
<g stroke="#111" fill="#111">
<line x1="31" y1="16.7" x2="31" y2="29.3"/><path d="M31,19.5 L33,23 L31,26.5 L29,23 Z"/>
</g>
</g>
<rect x="227" y="17" width="94" height="51" fill="#fff" fill-opacity="0.9" stroke="#ccc" stroke-width="0.8" rx="2"/>
<g stroke-width="1.2">
<g stroke="#1515e0" fill="#1515e0"><line x1="238" y1="20.3" x2="238" y2="28.3"/><circle cx="238" cy="24.3" r="2.6"/></g>
<g stroke="#108010" fill="#108010"><line x1="238" y1="32.7" x2="238" y2="40.7"/><circle cx="238" cy="36.7" r="2.6"/></g>
<g stroke="#ee1515" fill="#ee1515"><line x1="238" y1="45" x2="238" y2="53"/><circle cx="238" cy="49" r="2.6"/></g>
<g stroke="#111" fill="#111"><line x1="238" y1="57.7" x2="238" y2="65.7"/><path d="M238,58.7 L240,61.7 L238,64.7 L236,61.7 Z"/></g>
</g>
<g fill="#222" font-size="8">
<text x="252" y="27">0°≤<tspan font-style="italic">PA</tspan>≤60°</text>
<text x="252" y="39.5">60°≤<tspan font-style="italic">PA</tspan>≤120°</text>
<text x="252" y="52">120°≤<tspan font-style="italic">PA</tspan>≤180°</text>
<text x="252" y="64.5">VISIR</text>
</g>
</svg>
<div class="cap" style="left:486px;top:390.5px">
<div><b>Figure 3.</b> <i>V</i>(11.8 <i>μ</i>m) observations binned into three groups based</div>
<div>on PA and fitted with a Gaussian and a constant. The singular red</div>
<div class="e">point was given the same constant as the other two fits.</div>
</div>
<div class="b" style="left:486px;top:463px">
<div>light radius (<i>r</i><span class="s">0.66</span>) for the 11.8 <i>μ</i>m data shown in Figure <span class="c">3</span>.</div>
<div>We chose 66% of the flux to match the flux value of the sin-</div>
<div>gular red point. We separated the observations into four bins</div>
<div>at 26°, 41°, 85°, and 174° with 4, 3, 2, and 1 observations in</div>
<div>each bin respectively. We then fit a straight line to each bin,</div>
<div>except for the 174° bin, which corresponds to the lone red</div>
<div>point in Figure <span class="c">3</span>, and interpolated each of the other bins to</div>
<div>the visibility value of the red point, <i>V</i> = 0.66. This provides</div>
<div>us with the BL length at which each bin has a visibility value</div>
<div>of 0.66. We convert this to RA and DEC, using <i>r</i><span class="s">0.66</span> = <span class="frac"><i>BL</i><br><span style="border-top:1px solid #222;display:block">2λ</span></span>, and</div>
<div>derive errors for the fitted bins using a Monte Carlo method.</div>
<div>The result of this is the 66% light radius, which is the angu-</div>
<div>lar size at which 66% of the flux is contained. To this we fit</div>
<div>an ellipse. The result is plotted in Figure <span class="c">4</span> with a PA of the</div>
<div class="e">major axis of 166° and an axis ratio of 3.1.</div>
</div>
<div class="hd" style="left:486px;top:795px">4. MODELLING</div>
<div class="hd" style="left:486px;top:820px">4.1. <i>Geometric Model</i></div>
<div class="b" style="left:486px;top:846px">
<div class="i">Due to the low <i>uv</i> coverage and the lack of absolute phase</div>
<div>information, it is impossible to reconstruct an image from our</div>
<div>data; instead, we have to fit a model. To obtain a first under-</div>
<div>standing for the geometry of the warm dust in ESO 323-G77,</div>
<div>we fit a two component model to the visibility data, simi-</div>
<div>lar to the one described in <span class="c">López-Gonzaga et al.</span> (<span class="c">2016</span>). In</div>
<div>our model, the unresolved component is modelled by a 2D</div>
<div>radially symmetric Gaussian with an FWHM of the dust sub-</div>
<div>limation radius of ESO 323-G77 given in <span class="c">Kishimoto et al.</span></div>
<div>(<span class="c">2011b</span>). The second Gaussian is an elongated 2D Gaus-</div>
<div>sian. The model was analytically converted to Fourier space</div>
<div>to produce the final model for fitting. The analytical descrip-</div>
<div class="e">tion of the visibility is given by:</div>
</div>
</div>

</body></html>
